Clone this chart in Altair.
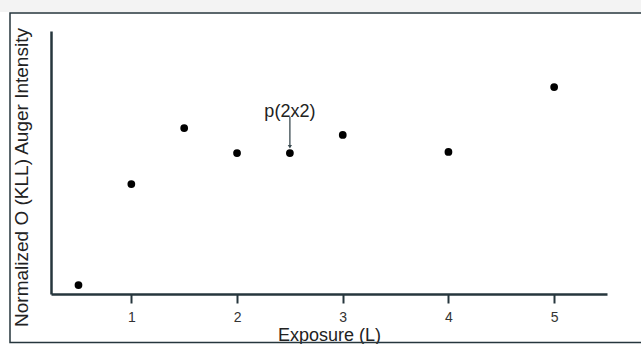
import altair as alt
import pandas as pd

# Data
exposure = [0.5, 1.0, 1.5, 2.0, 2.5, 3.0, 4.0, 5.0]
intensity = [0.034, 0.418, 0.631, 0.536, 0.536, 0.605, 0.540, 0.787]
x_ticks = [1, 2, 3, 4, 5]

ann_x = [2.5]
ann_label = ["p(2x2)"]
ann_text_y = [0.692]
ann_arrow_top = [0.673]
ann_arrow_bottom = [0.560]

df = pd.DataFrame({"x": exposure, "y": intensity})
ann = pd.DataFrame({"x": ann_x, "label": ann_label, "ty": ann_text_y,
                    "y1": ann_arrow_top, "y2": ann_arrow_bottom})

FONT = "Liberation Sans"
LINE = "#26363d"

xscale = alt.Scale(domain=[0.24, 5.5], nice=False, zero=False)
yscale = alt.Scale(domain=[0, 1], nice=False, zero=False)

points = alt.Chart(df).mark_circle(size=60, color="black", opacity=1).encode(
    x=alt.X("x:Q", scale=xscale,
            axis=alt.Axis(values=x_ticks, format="d", grid=False, title="Exposure (L)",
                          domainColor=LINE, domainWidth=2.5, tickColor=LINE, tickWidth=2,
                          tickSize=9, labelFontSize=14, labelColor="#333333", labelPadding=7,
                          labelFont=FONT, titleFont=FONT, titleFontSize=18, titleFontWeight="normal",
                          titleColor="#222222", titlePadding=2)),
    y=alt.Y("y:Q", scale=yscale,
            axis=alt.Axis(grid=False, ticks=False, labels=False, title="Normalized O (KLL) Auger Intensity",
                          domainColor=LINE, domainWidth=2.5, titleFont=FONT, titleFontSize=19,
                          titleFontWeight="normal", titleColor="#222222", titlePadding=20, titleY=146)),
)

arrow = alt.Chart(ann).mark_rule(color="#3a4a50", strokeWidth=1.3).encode(
    x="x:Q", y="y1:Q", y2="y2:Q")
head = alt.Chart(ann).mark_point(shape="triangle-down", filled=True, size=18,
                                 color="#3a4a50", opacity=1).encode(x="x:Q", y="y2:Q")
label = alt.Chart(ann).mark_text(font=FONT, fontSize=18, color="#222222").encode(
    x="x:Q", y="ty:Q", text="label:N")

frame = alt.Chart(ann).mark_rect(fill=None, stroke=LINE, strokeWidth=1.5, clip=False).encode(
    x=alt.value(-41), x2=alt.value(620), y=alt.value(-18), y2=alt.value(311.5))
topband = alt.Chart(ann).mark_rect(fill="#f3f3f3", clip=False).encode(
    x=alt.value(-51), x2=alt.value(620), y=alt.value(-31), y2=alt.value(-19))

chart = alt.layer(topband, frame, arrow, head, label, points).properties(
    width=556, height=263,
    autosize=alt.AutoSizeParams(type="none"),
    padding={"left": 51, "top": 31, "right": 34, "bottom": 50},
    background="white",
).configure_view(stroke=None)

chart.save("out.html", embed_options={"renderer": "svg", "actions": False})
